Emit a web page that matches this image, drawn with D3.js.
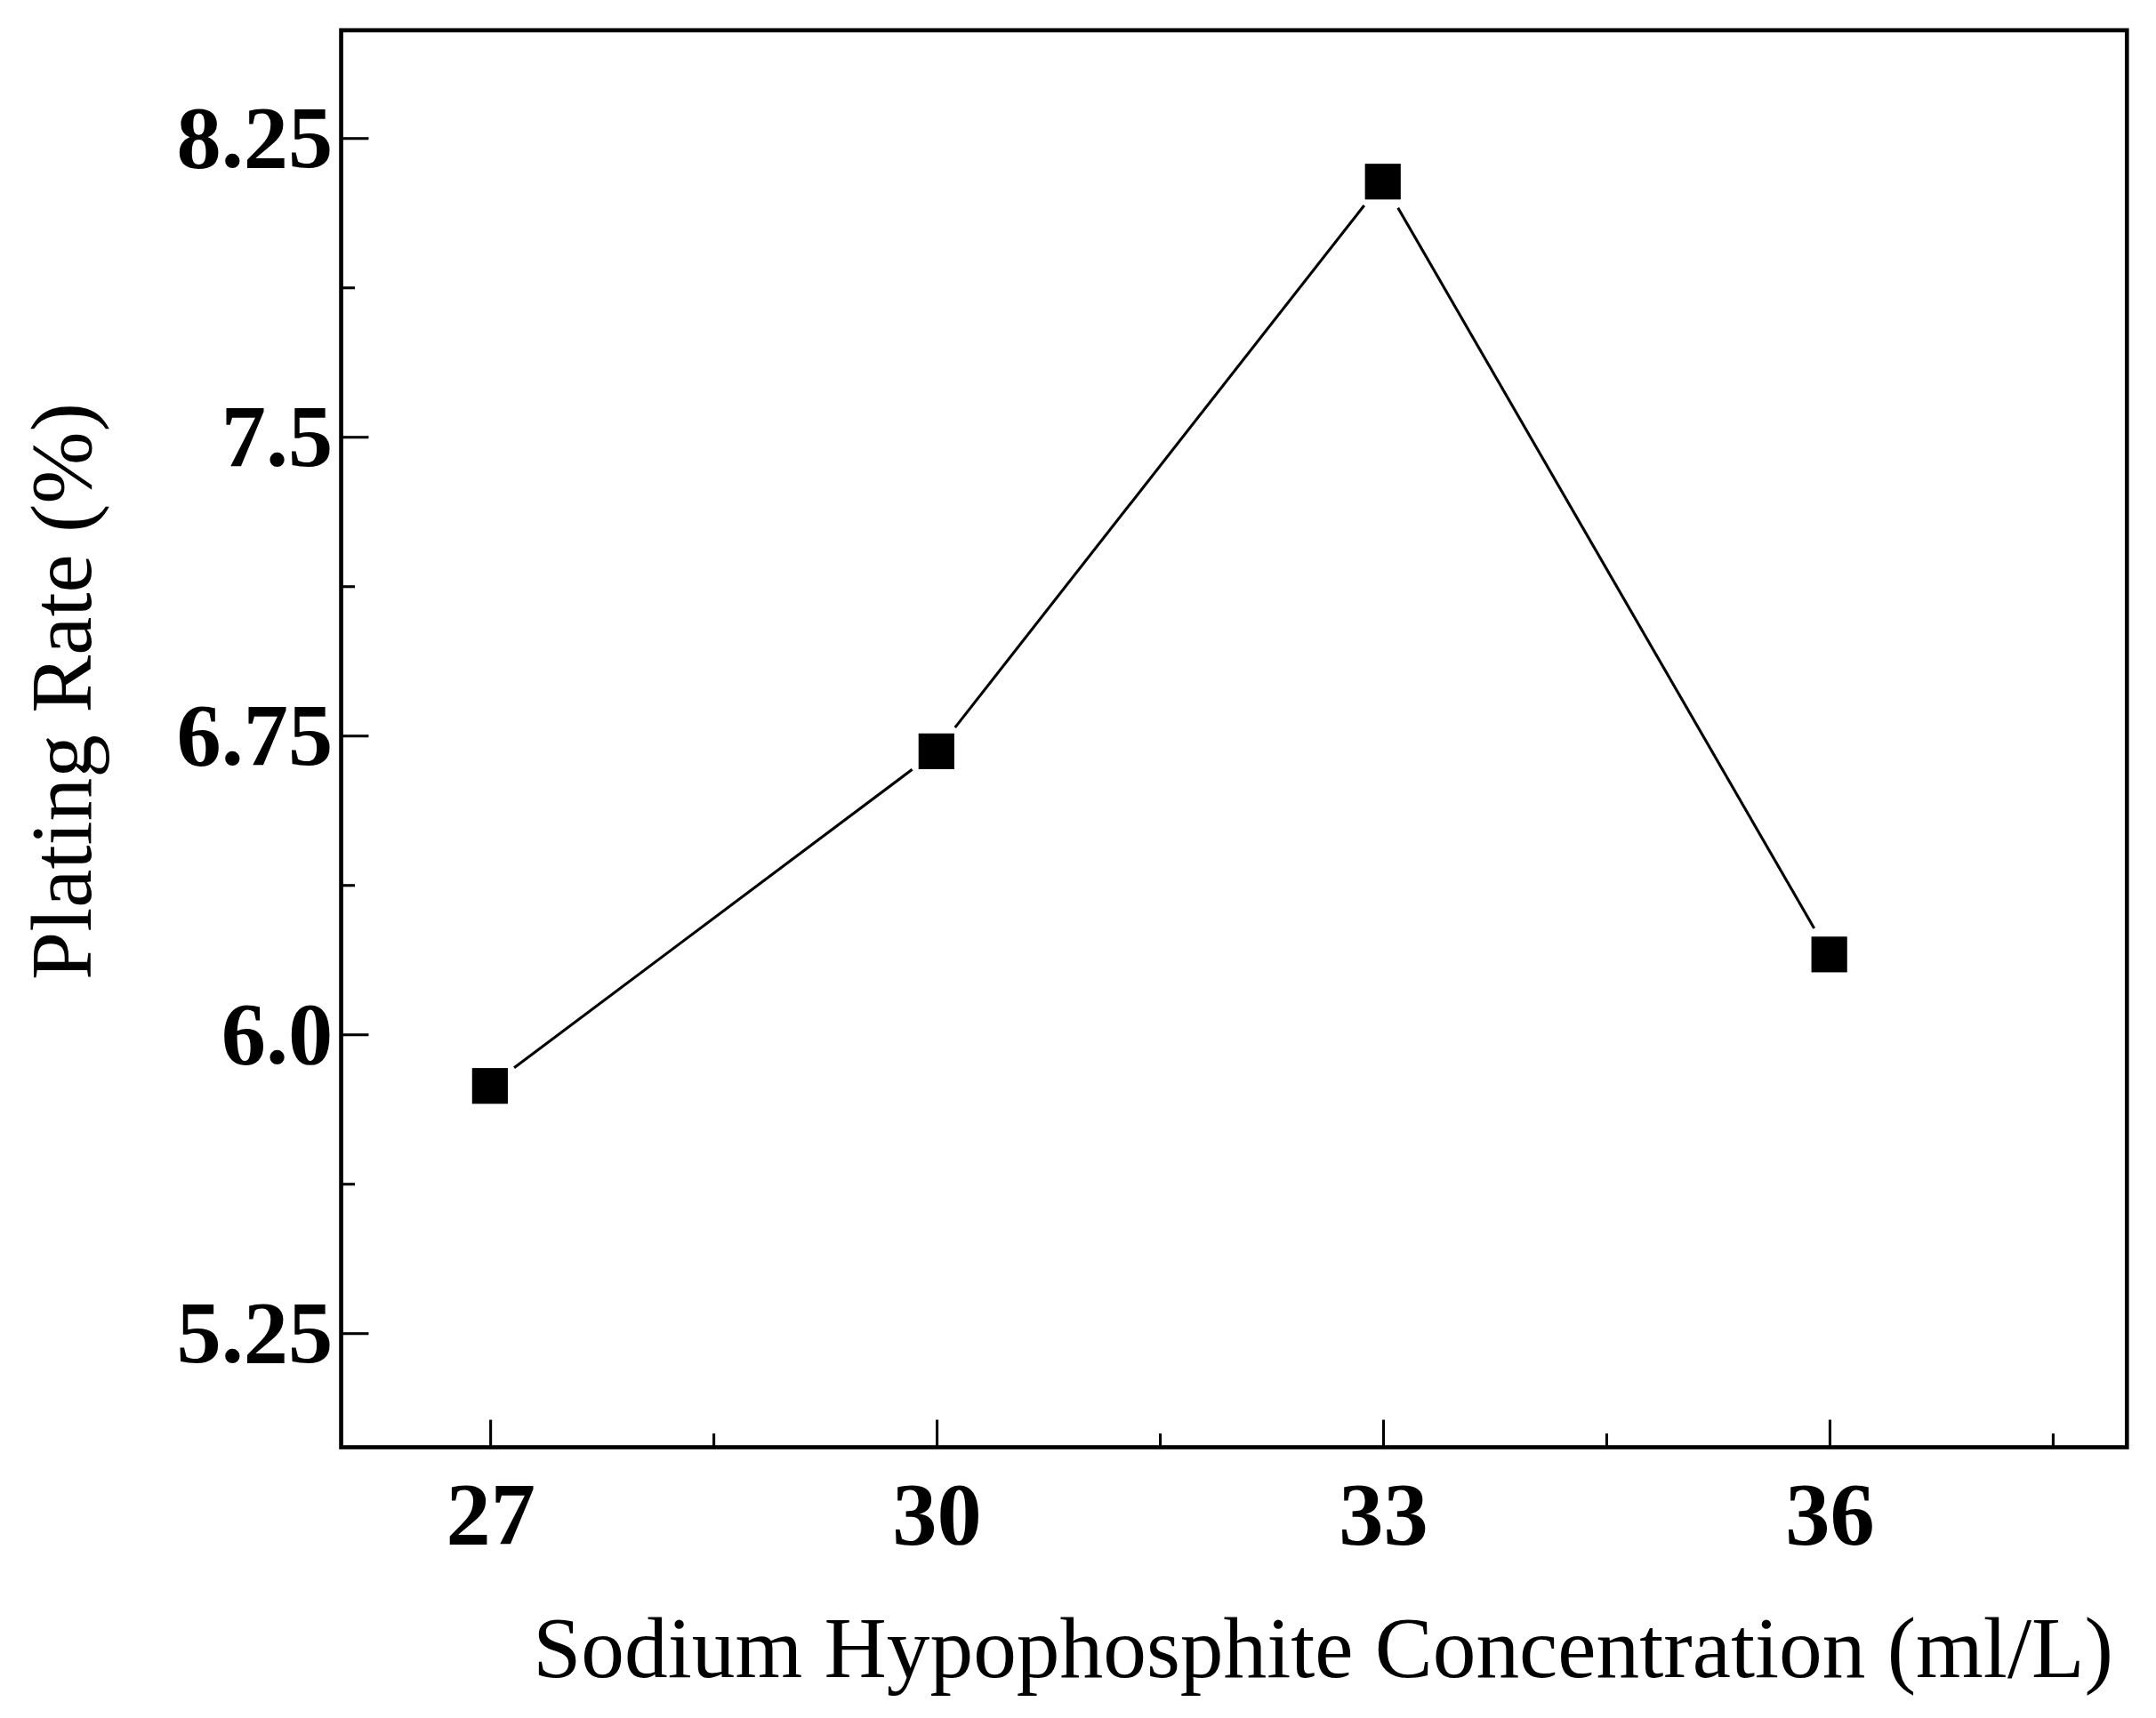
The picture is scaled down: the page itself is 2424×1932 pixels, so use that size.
<!DOCTYPE html>
<html><head><meta charset="utf-8">
<script src="https://cdn.jsdelivr.net/npm/d3@7"></script>
<style>body{margin:0;background:#fff}</style>
</head><body><div id="chart"></div>
<script>
const concentration = [27, 30, 33, 36];
const platingRate = [5.87, 6.71, 8.14, 6.20];
const xTicks = [27, 30, 33, 36];
const yTicks = [5.25, 6.0, 6.75, 7.5, 8.25];
const yTickLabels = ["5.25", "6.0", "6.75", "7.5", "8.25"];

const margin = { top: 22, right: 21, bottom: 197, left: 248 },
    width = 1568 - margin.left - margin.right,
    height = 1250 - margin.top - margin.bottom;

const svg = d3.select("#chart").append("svg")
    .attr("width", 2424).attr("height", 1932)
    .attr("viewBox", "0 0 1568 1250")
    .style("font-family", "'Liberation Serif', 'Times New Roman', serif");
const g = svg.append("g").attr("transform", `translate(${margin.left},${margin.top})`);

const x = d3.scaleLinear().domain([26, 38]).range([0, width]);
const y = d3.scaleLinear().domain([4.963, 8.52]).range([height, 0]);

g.append("g").attr("transform", `translate(0,${height})`)
    .call(d3.axisBottom(x).tickValues(xTicks).tickSize(-20).tickPadding(24).tickFormat(d3.format("d")));
g.append("g").attr("transform", `translate(0,${height})`)
    .call(d3.axisBottom(x).tickValues([28.5, 31.5, 34.5, 37.5]).tickSize(-10).tickFormat(""));

g.append("g")
    .call(d3.axisLeft(y).tickValues(yTicks).tickSize(-20).tickPadding(6).tickFormat((d, i) => yTickLabels[i]));
g.append("g")
    .call(d3.axisLeft(y).tickValues([5.625, 6.375, 7.125, 7.875]).tickSize(-10).tickFormat(""));

g.selectAll(".tick line").attr("stroke", "#000").attr("stroke-width", 2);
g.selectAll(".domain").remove();
g.selectAll(".tick text").attr("font-size", 65).attr("font-weight", "bold").attr("fill", "#000")
    .style("font-family", "'Liberation Serif', serif");

g.append("rect").attr("width", width).attr("height", height)
    .attr("fill", "none").attr("stroke", "#000").attr("stroke-width", 3);

// line segments with gaps around markers
const pts = concentration.map((c, i) => [x(c), y(platingRate[i])]);
const gap = 22;
for (let i = 0; i < pts.length - 1; i++) {
    const [x1, y1] = pts[i], [x2, y2] = pts[i + 1];
    const len = Math.hypot(x2 - x1, y2 - y1), ux = (x2 - x1) / len, uy = (y2 - y1) / len;
    g.append("line")
        .attr("x1", x1 + ux * gap).attr("y1", y1 + uy * gap)
        .attr("x2", x2 - ux * gap).attr("y2", y2 - uy * gap)
        .attr("stroke", "#000").attr("stroke-width", 2);
}
g.selectAll(".pt").data(pts).enter().append("rect")
    .attr("x", d => d[0] - 13).attr("y", d => d[1] - 13)
    .attr("width", 26).attr("height", 26).attr("fill", "#000");

svg.append("text").attr("x", 1537).attr("y", 1220).attr("text-anchor", "end")
    .attr("font-size", 63).text("Sodium Hypophosphite Concentration (ml/L)");
svg.append("text").attr("transform", "translate(66,503) rotate(-90)").attr("text-anchor", "middle")
    .attr("font-size", 63).text("Plating Rate (%)");
</script></body></html>
